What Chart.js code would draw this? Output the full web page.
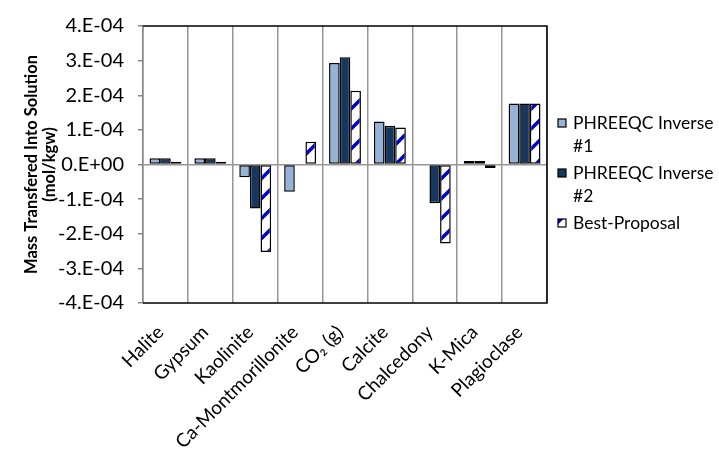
<!DOCTYPE html>
<html>
<head>
<meta charset="utf-8">
<script src="https://cdn.jsdelivr.net/npm/chart.js@4.4.1/dist/chart.umd.min.js"></script>
<style>
  html, body { margin: 0; padding: 0; background: #fff; }
  #wrap { width: 719px; height: 449px; position: relative; }
</style>
</head>
<body>
<div id="wrap"><canvas id="chart" width="719" height="449"></canvas></div>
<script>
const categories = ["Halite", "Gypsum", "Kaolinite", "Ca-Montmorillonite", "CO\u2082 (g)", "Calcite", "Chalcedony", "K-Mica", "Plagioclase"];
const inverse1 = [1.8e-5, 1.8e-5, -3.7e-5, -7.9e-5, 2.93e-4, 1.24e-4, 0, 1.0e-5, 1.76e-4];
const inverse2 = [1.8e-5, 1.8e-5, -1.27e-4, 0, 3.10e-4, 1.12e-4, -1.12e-4, 1.0e-5, 1.76e-4];
const bestProposal = [0.8e-5, 0.8e-5, -2.53e-4, 6.6e-5, 2.13e-4, 1.07e-4, -2.28e-4, -1.0e-5, 1.76e-4];
const seriesNames = [["PHREEQC Inverse", "#1"], ["PHREEQC Inverse", "#2"], ["Best-Proposal"]];
const yTicks = [-4e-4, -3e-4, -2e-4, -1e-4, 0, 1e-4, 2e-4, 3e-4, 4e-4];

const FONT = "Lato, 'Open Sans', sans-serif";

function stripePattern() {
    const c = document.createElement("canvas");
    c.width = 20;
    c.height = 20;
    const g = c.getContext("2d");
    g.fillStyle = "#ffffff";
    g.fillRect(0, 0, 20, 20);
    g.strokeStyle = "#0000cc";
    g.lineWidth = 3.5;
    g.beginPath();
    g.moveTo(-2, 22); g.lineTo(22, -2);
    g.moveTo(-2, 2); g.lineTo(2, -2);
    g.moveTo(18, 22); g.lineTo(22, 18);
    g.stroke();
    return g.createPattern(c, "repeat");
}

const pattern = stripePattern();
const fills = ["#95b3d7", "#17375e", pattern];

function fmtTick(v) {
    const m = Math.round(v / 1e-4);
    if (m === 0) return "0.E+00";
    return m + ".E-04";
}

// black plot-area frame on top, right and bottom
const frame = {
    id: "frame",
    afterDatasetsDraw(chart) {
        const { ctx, chartArea: a } = chart;
        ctx.save();
        ctx.strokeStyle = "#000";
        ctx.lineWidth = 1.5;
        ctx.beginPath();
        ctx.moveTo(a.left, a.top);
        ctx.lineTo(a.right, a.top);
        ctx.lineTo(a.right, a.bottom);
        ctx.lineTo(a.left, a.bottom);
        ctx.stroke();
        ctx.restore();
    }
};

const sideLegend = {
    id: "sideLegend",
    afterDraw(chart) {
        const { ctx } = chart;
        const x = 558;
        const rowStarts = [123, 173, 223];
        ctx.save();
        ctx.font = "17.5px " + FONT;
        ctx.textBaseline = "middle";
        seriesNames.forEach((lines, i) => {
            const y = rowStarts[i];
            ctx.fillStyle = fills[i];
            ctx.fillRect(x, y - 4, 8, 8);
            ctx.strokeStyle = "#000";
            ctx.lineWidth = 1.2;
            ctx.strokeRect(x, y - 4, 8, 8);
            ctx.fillStyle = "#000";
            lines.forEach((t, k) => ctx.fillText(t, 573, y + k * 23.5));
        });
        ctx.restore();
    }
};

const datasets = [inverse1, inverse2, bestProposal].map((vals, i) => ({
    label: seriesNames[i].join(" "),
    data: vals,
    backgroundColor: fills[i],
    borderColor: "#000",
    borderWidth: 1.5,
    borderSkipped: false,
    categoryPercentage: 0.71,
    barPercentage: 1.0,
}));

new Chart(document.getElementById("chart"), {
    type: "bar",
    data: { labels: categories, datasets },
    options: {
        responsive: false,
        animation: false,
        layout: { padding: { top: 22, right: 172, bottom: 0, left: 0 } },
        plugins: { legend: { display: false }, tooltip: { enabled: false } },
        scales: {
            x: {
                afterFit(s) { s.height = 146; },
                grid: { color: "#969696", lineWidth: 1.5, drawTicks: false, offset: true },
                border: { display: false },
                ticks: {
                    minRotation: 45,
                    maxRotation: 45,
                    autoSkip: false,
                    padding: 18,
                    labelOffset: -5,
                    color: "#000",
                    font: { family: FONT, size: 19 },
                },
            },
            y: {
                min: -4e-4,
                max: 4e-4,
                afterFit(s) { s.width = 143; },
                afterBuildTicks(s) { s.ticks = yTicks.map(v => ({ value: v })); },
                grid: {
                    color: (c) => (c.tick && Math.abs(c.tick.value) < 1e-12 ? "#969696" : "rgba(0,0,0,0)"),
                    lineWidth: 1.5,
                    tickColor: "#868686",
                    tickLength: 5,
                },
                border: { color: "#868686", width: 1.5 },
                ticks: {
                    padding: 14,
                    color: "#000",
                    font: { family: FONT, size: 20 },
                    callback: (v) => fmtTick(v),
                },
                title: {
                    display: true,
                    text: ["Mass Transfered Into Solution", "(mol/kgw)"],
                    color: "#000",
                    font: { family: FONT, size: 16.5, weight: "bold", lineHeight: 1.12 },
                    padding: { top: 22, bottom: 0 },
                },
            },
        },
    },
    plugins: [frame, sideLegend],
});
</script>
</body>
</html>
